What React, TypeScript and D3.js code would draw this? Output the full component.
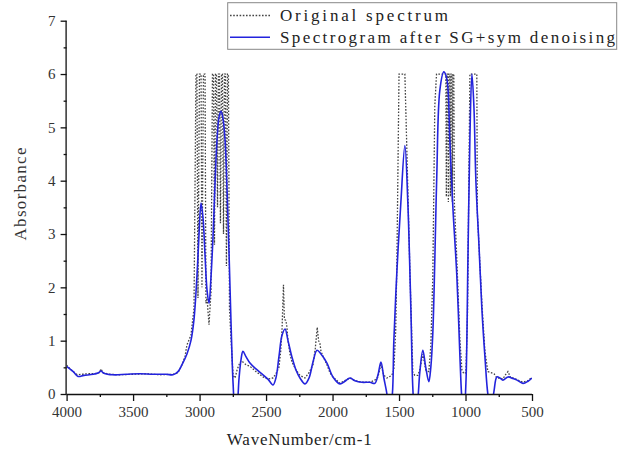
import { useEffect, useRef } from 'react';
import * as d3 from 'd3';

// Original (noisy) spectrum
const origWave = [4000, 3960, 3920, 3880, 3840, 3790, 3755, 3741, 3728, 3680, 3600, 3500, 3400, 3300, 3200, 3162, 3132, 3110, 3095, 3065,
  3042, 3027, 3020, 3012, 3001, 2989, 2982, 2971, 2959, 2952, 2944, 2929, 2922, 2914, 2903, 2895, 2888, 2880, 2873, 2865,
  2858, 2850, 2843, 2835, 2828, 2820, 2813, 2805, 2798, 2790, 2783, 2775, 2763, 2748, 2733, 2718, 2703, 2688, 2674, 2651,
  2621, 2576, 2523, 2486, 2448, 2426, 2403, 2390, 2380, 2369, 2362, 2352, 2345, 2335, 2320, 2305, 2275, 2245, 2207, 2177,
  2147, 2130, 2115, 2105, 2095, 2087, 2070, 2042, 2020, 1997, 1944, 1907, 1869, 1832, 1779, 1719, 1682, 1659, 1636, 1614,
  1591, 1576, 1554, 1539, 1525, 1516, 1500, 1490, 1468, 1456, 1443, 1418, 1396, 1381, 1359, 1344, 1321, 1299, 1276, 1261,
  1246, 1231, 1218, 1193, 1163, 1148, 1144, 1140, 1133, 1129, 1125, 1118, 1114, 1110, 1103, 1099, 1095, 1088, 1084, 1065,
  1042, 1027, 1012, 997, 985, 975, 967, 952, 937, 915, 911, 899, 877, 854, 832, 809, 786, 764, 741, 719,
  700, 681, 660, 643, 613, 568, 530, 500];
const origAbs = [0.54, 0.44, 0.36, 0.37, 0.38, 0.38, 0.40, 0.47, 0.40, 0.37, 0.36, 0.37, 0.38, 0.36, 0.37, 0.40, 0.55, 0.70, 0.92, 1.1,
  1.6, 6.0, 6.0, 1.8, 6.0, 6.0, 2.0, 6.0, 6.0, 1.7, 1.8, 1.3, 1.6, 1.9, 6.0, 6.0, 2.8, 6.0, 6.0, 3.5,
  6.0, 6.0, 3.2, 6.0, 6.0, 3.0, 6.0, 6.0, 2.4, 6.0, 6.0, 1.6, 1.0, 0.35, 0.30, 0.45, 0.55, 0.62, 0.60, 0.55,
  0.52, 0.42, 0.32, 0.28, 0.30, 0.38, 0.50, 0.80, 1.2, 2.05, 1.4, 1.38, 1.3, 1.0, 0.75, 0.60, 0.45, 0.35, 0.30, 0.40,
  0.55, 0.85, 1.25, 1.0, 0.95, 0.80, 0.70, 0.55, 0.40, 0.32, 0.20, 0.25, 0.30, 0.25, 0.22, 0.22, 0.26, 0.32, 0.55, 0.35,
  0.30, 0.32, 0.35, 0.45, 1.2, 2.5, 6.0, 6.0, 6.0, 6.0, 4.76, 2.27, 0.40, 0.35, 0.35, 0.45, 0.75, 0.45, 0.42, 0.90,
  2.2, 5.4, 6.0, 6.0, 6.0, 6.0, 3.7, 6.0, 6.0, 3.6, 6.0, 6.0, 3.7, 6.0, 6.0, 3.6, 6.0, 6.0, 3.6, 2.5,
  1.0, 0.45, 0.38, 0.40, 1.5, 4.0, 6.0, 6.0, 6.0, 6.0, 3.4, 2.8, 1.7, 0.8, 0.42, 0.40, 0.38, 0.30, 0.30, 0.28,
  0.36, 0.42, 0.30, 0.30, 0.27, 0.22, 0.25, 0.32];

// Spectrum after SG + sym wavelet denoising
const denWave = [4000, 3950, 3914, 3870, 3800, 3760, 3741, 3720, 3650, 3550, 3450, 3350, 3250, 3200, 3162, 3132, 3095, 3065, 3042, 3020,
  3004, 2989, 2974, 2959, 2944, 2929, 2914, 2898, 2883, 2868, 2853, 2838, 2823, 2808, 2793, 2778, 2763, 2748, 2733, 2718,
  2703, 2688, 2674, 2651, 2621, 2576, 2523, 2486, 2448, 2426, 2403, 2380, 2357, 2335, 2305, 2275, 2245, 2207, 2177, 2147,
  2117, 2087, 2042, 1997, 1944, 1907, 1869, 1832, 1779, 1719, 1682, 1659, 1636, 1614, 1591, 1576, 1554, 1539, 1516, 1486,
  1456, 1434, 1411, 1396, 1381, 1359, 1344, 1321, 1299, 1276, 1261, 1246, 1231, 1216, 1193, 1163, 1140, 1118, 1095, 1065,
  1042, 1027, 1012, 997, 982, 967, 952, 937, 922, 899, 877, 854, 832, 809, 786, 764, 741, 719, 681, 643,
  613, 568, 530, 500];
const denAbs = [0.52, 0.42, 0.33, 0.35, 0.37, 0.40, 0.43, 0.39, 0.36, 0.37, 0.38, 0.37, 0.37, 0.36, 0.42, 0.55, 0.75, 1.0, 1.4, 2.2,
  3.0, 3.58, 3.3, 2.6, 1.95, 1.7, 2.2, 3.0, 4.0, 4.8, 5.2, 5.3, 5.15, 4.75, 3.8, 2.6, 1.3, 0.2, -0.3, -0.2,
  0.3, 0.65, 0.8, 0.7, 0.58, 0.47, 0.36, 0.28, 0.17, 0.3, 0.7, 1.1, 1.22, 1.0, 0.69, 0.45, 0.30, 0.19, 0.3, 0.6,
  0.82, 0.75, 0.58, 0.32, 0.19, 0.24, 0.30, 0.25, 0.22, 0.22, 0.2, 0.35, 0.6, 0.3, 0.0, -0.3, -0.1, 1.0, 2.3, 3.6,
  4.66, 3.6, 1.6, 0.1, -0.4, -0.1, 0.4, 0.82, 0.5, 0.23, 0.5, 1.14, 2.5, 4.1, 5.7, 6.04, 5.9, 4.76, 3.5, 2.2,
  0.7, -0.1, -0.4, 0.2, 2.5, 4.8, 6.0, 5.4, 4.0, 2.8, 1.6, 0.7, 0.0, -0.3, 0.05, 0.32, 0.3, 0.26, 0.32, 0.29,
  0.26, 0.2, 0.24, 0.3];

const xTicks = [4000, 3500, 3000, 2500, 2000, 1500, 1000, 500];
const yTicks = [0, 1, 2, 3, 4, 5, 6, 7];

const legendLabels = ['Original spectrum', 'Spectrogram after SG+sym denoising'];

const App = () => {
  const svgRef = useRef<SVGSVGElement>(null);

  useEffect(() => {
    const svg = d3.select(svgRef.current);
    svg.selectAll('*').remove();

    const left = 66.6, right = 532, top = 20.7, bottom = 394;
    const x = d3.scaleLinear().domain([4000, 500]).range([left, right]);
    const y = d3.scaleLinear().domain([0, 7]).range([bottom, top]);

    svg.append('defs').append('clipPath').attr('id', 'plot-clip')
      .append('rect')
      .attr('x', left).attr('y', top)
      .attr('width', right - left).attr('height', bottom - top);

    const orig = origWave.map((w, i) => [w, origAbs[i]] as [number, number]);
    const den = denWave.map((w, i) => [w, denAbs[i]] as [number, number]);

    const plot = svg.append('g').attr('clip-path', 'url(#plot-clip)');

    plot.append('path')
      .datum(orig)
      .attr('fill', 'none')
      .attr('stroke', '#444')
      .attr('stroke-width', 1.3)
      .attr('stroke-dasharray', '1.6,1.6')
      .attr('d', d3.line<[number, number]>().x(d => x(d[0])).y(d => y(d[1])));

    plot.append('path')
      .datum(den)
      .attr('fill', 'none')
      .attr('stroke', '#2323dd')
      .attr('stroke-width', 1.6)
      .attr('d', d3.line<[number, number]>().x(d => x(d[0])).y(d => y(d[1])).curve(d3.curveCatmullRom.alpha(0.5)));

    // X axis
    const xAxis = svg.append('g').attr('transform', `translate(0,${bottom})`);
    xAxis.call(d3.axisBottom(x).tickValues(d3.range(4000, 499, -250)).tickSize(3).tickFormat(() => ''));
    xAxis.call(g => g.selectAll('.tick').filter((d: any) => xTicks.includes(d)).select('line').attr('y2', 7));
    xAxis.selectAll('.tick').filter((d: any) => xTicks.includes(d)).select('text')
      .text((d: any) => d)
      .attr('y', 12);
    xAxis.select('.domain').attr('d', `M${left},0.5H${right}`);

    // Y axis
    const yAxis = svg.append('g').attr('transform', `translate(${left},0)`);
    yAxis.call(d3.axisLeft(y).tickValues(d3.range(0, 7.01, 0.5)).tickSize(3).tickFormat(() => ''));
    yAxis.selectAll('.tick').filter((d: any) => yTicks.includes(d)).select('line').attr('x2', -6);
    yAxis.selectAll('.tick').filter((d: any) => yTicks.includes(d)).select('text')
      .text((d: any) => d)
      .attr('x', -11);
    yAxis.select('.domain').attr('d', `M-0.5,${bottom}V${top}`);

    svg.selectAll('.tick text')
      .attr('font-family', '"Liberation Serif", serif')
      .attr('font-size', 15)
      .attr('fill', '#333');
    svg.selectAll('.domain, .tick line').attr('stroke', '#111').attr('stroke-width', 1.3);

    // Axis titles
    svg.append('text')
      .attr('x', (left + right) / 2)
      .attr('y', 445)
      .attr('text-anchor', 'middle')
      .attr('font-family', '"Liberation Serif", serif')
      .attr('font-size', 17)
      .attr('textLength', 145)
      .attr('lengthAdjust', 'spacing')
      .attr('fill', '#222')
      .text('WaveNumber/cm-1');

    svg.append('text')
      .attr('transform', 'translate(26,194) rotate(-90)')
      .attr('text-anchor', 'middle')
      .attr('font-family', '"Liberation Serif", serif')
      .attr('font-size', 17)
      .attr('textLength', 93)
      .attr('fill', '#333')
      .text('Absorbance');

    // Legend
    const legend = svg.append('g');
    legend.append('rect')
      .attr('x', 227.7).attr('y', 2.7)
      .attr('width', 389).attr('height', 46.6)
      .attr('fill', '#fff')
      .attr('stroke', '#888')
      .attr('stroke-width', 1);
    const styles = [
      { stroke: '#444', width: 1.3, dash: '1.6,1.6' },
      { stroke: '#2323dd', width: 1.6, dash: null },
    ];
    const lens = [168, 335];
    legendLabels.forEach((label, i) => {
      const cy = i === 0 ? 15.5 : 37.3;
      legend.append('line')
        .attr('x1', 230).attr('x2', 270)
        .attr('y1', cy).attr('y2', cy)
        .attr('stroke', styles[i].stroke)
        .attr('stroke-width', styles[i].width)
        .attr('stroke-dasharray', styles[i].dash);
      legend.append('text')
        .attr('x', 280)
        .attr('y', i === 0 ? 21 : 42.5)
        .attr('font-family', '"Liberation Serif", serif')
        .attr('font-size', 17)
        .attr('textLength', lens[i])
        .attr('lengthAdjust', 'spacing')
        .attr('fill', '#222')
        .text(label);
    });
  }, []);

  return (
    <svg
      ref={svgRef}
      width={621}
      height={450}
      style={{ position: 'absolute', left: 0, top: 0, background: '#fff' }}
    />
  );
};

export default App;
